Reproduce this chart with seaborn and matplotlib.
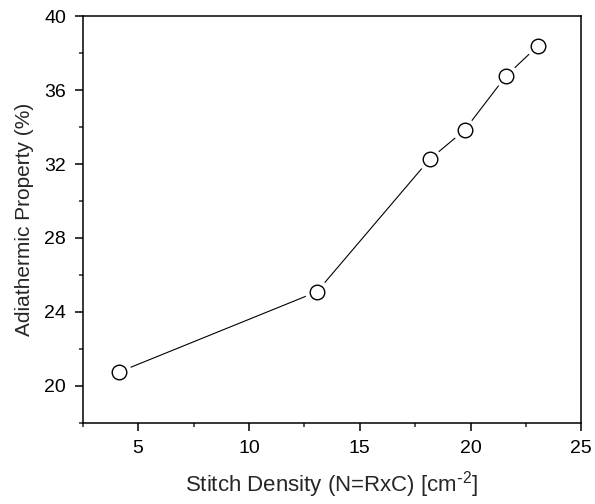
import numpy as np
import pandas as pd
import seaborn as sns
import matplotlib.pyplot as plt
from matplotlib.ticker import MultipleLocator

# values
stitch_density = [4.16, 13.07, 18.15, 19.73, 21.6, 23.04]
adiathermic = [20.76, 25.09, 32.25, 33.83, 36.76, 38.39]

df = pd.DataFrame({"density": stitch_density, "adiathermic": adiathermic})

sns.set_style("ticks")
plt.rcParams['font.family'] = ['Liberation Sans', 'DejaVu Sans']
plt.rcParams['mathtext.default'] = 'regular'

fig = plt.figure(figsize=(5.95, 5.04), dpi=100)
ax = fig.add_axes([0.139, 0.161, 0.838, 0.807])

# connecting line
sns.lineplot(data=df, x="density", y="adiathermic", color="black", linewidth=0.8, ax=ax, zorder=2)
# white halo so the line stops short of the circles
sns.scatterplot(data=df, x="density", y="adiathermic", s=300, color="white", edgecolor="none", ax=ax, zorder=3)
# open circles
sns.scatterplot(data=df, x="density", y="adiathermic", s=110, facecolor="white", edgecolor="black",
                linewidth=1.0, ax=ax, zorder=4)

ax.set_xlim(2.5, 25)
ax.set_ylim(18, 40)
ax.xaxis.set_major_locator(MultipleLocator(5))
ax.xaxis.set_minor_locator(MultipleLocator(2.5))
ax.yaxis.set_major_locator(MultipleLocator(4))
ax.yaxis.set_minor_locator(MultipleLocator(2))

for s in ax.spines.values():
    s.set_linewidth(1.1)
    s.set_color("black")
ax.tick_params(which="major", direction="out", length=6, width=1.1, labelsize=14, colors="black", pad=6)
ax.tick_params(which="minor", direction="out", length=3, width=1.1)
ax.tick_params(top=False, right=False)

ax.set_xlabel(r"Stitch Density (N=RxC) [cm$^{\text{-}2}$]", fontsize=16, labelpad=9)
ax.set_ylabel("Adiathermic Property (%)", fontsize=15, labelpad=7)

fig.savefig("out.png", dpi=100)
